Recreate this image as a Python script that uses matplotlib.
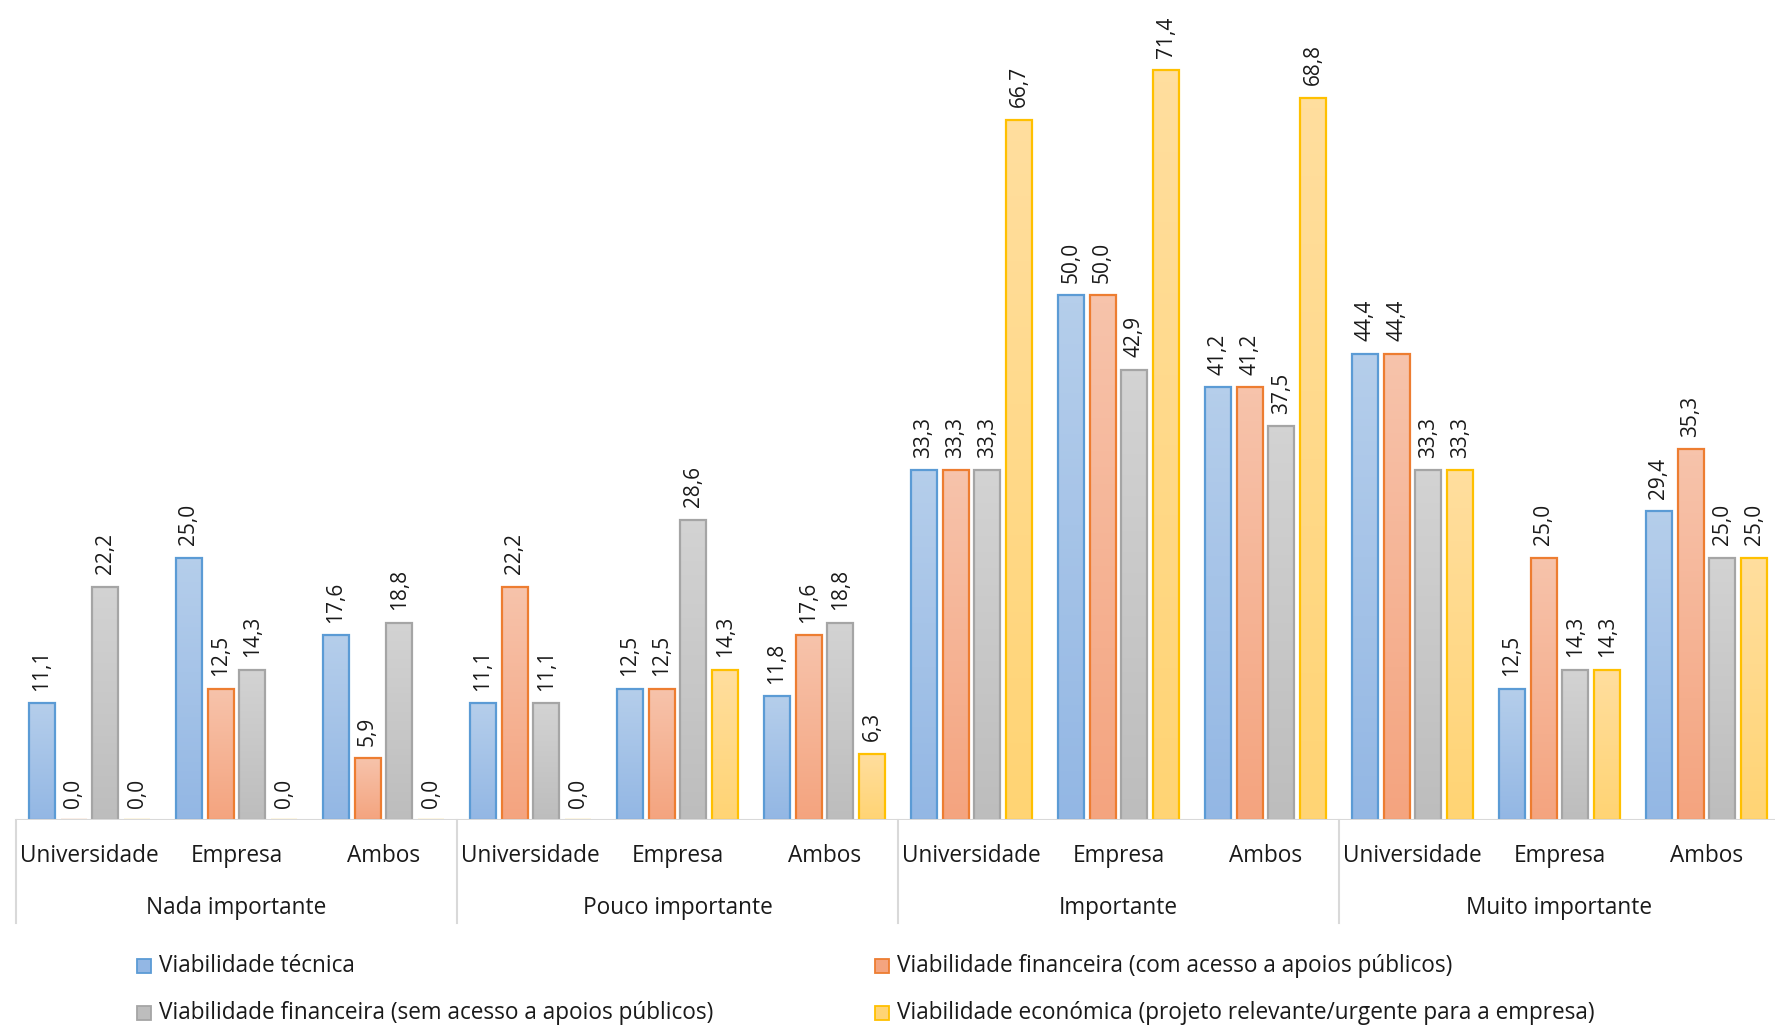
import numpy as np
import matplotlib
matplotlib.use("Agg")
import matplotlib.pyplot as plt
from matplotlib.colors import LinearSegmentedColormap
from matplotlib.patches import Rectangle

plt.rcParams['font.family'] = ['Open Sans', 'DejaVu Sans']

# data
groups = ["Nada importante", "Pouco importante", "Importante", "Muito importante"]
subgroups = ["Universidade", "Empresa", "Ambos"]
series = [
    "Viabilidade técnica",
    "Viabilidade financeira (com acesso a apoios públicos)",
    "Viabilidade financeira (sem acesso a apoios públicos)",
    "Viabilidade económica (projeto relevante/urgente para a empresa)",
]
tecnica = [11.1, 25.0, 17.6, 11.1, 12.5, 11.8, 33.3, 50.0, 41.2, 44.4, 12.5, 29.4]
fin_com = [0.0, 12.5, 5.9, 22.2, 12.5, 17.6, 33.3, 50.0, 41.2, 44.4, 25.0, 35.3]
fin_sem = [22.2, 14.3, 18.8, 11.1, 28.6, 18.8, 33.3, 42.9, 37.5, 33.3, 14.3, 25.0]
economica = [0.0, 0.0, 0.0, 0.0, 14.3, 6.3, 66.7, 71.4, 68.8, 33.3, 14.3, 25.0]
values = [tecnica, fin_com, fin_sem, economica]

# styles: (edge, top colour, bottom colour)
styles = [
    ("#5B9BD5", "#B5CEEB", "#93B7E4"),
    ("#ED7D31", "#F7C3AB", "#F4A47F"),
    ("#A5A5A5", "#D3D3D3", "#BDBDBD"),
    ("#FFC000", "#FFDE9E", "#FFD474"),
]

fig = plt.figure(figsize=(17.75, 10.29), dpi=100)
ax_h_px = 820
ax = fig.add_axes([16 / 1775, (1029 - 820) / 1029, (1780 - 16) / 1775, 820 / 1029])
ax.axis("off")

pitch = 0.216
width = 0.177
n_sub = len(groups) * len(subgroups)
x = np.arange(n_sub) + 0.5
txt_color = "#1a1a1a"
fs_val = 15
fs_txt = 16.3

for i, (vals, (edge, ctop, cbot)) in enumerate(zip(values, styles)):
    xi = x + (i - 1.5) * pitch
    bars = ax.bar(xi, vals, width=width, facecolor="none", edgecolor=edge,
                  linewidth=1.6, zorder=3)
    cmap = LinearSegmentedColormap.from_list(f"g{i}", [cbot, ctop])
    grad = np.linspace(0, 1, 64).reshape(-1, 1)
    for b, v in zip(bars, vals):
        if v > 0:
            im = ax.imshow(grad, cmap=cmap, origin="lower", aspect="auto",
                           extent=[b.get_x(), b.get_x() + b.get_width(), 0, v],
                           zorder=2)
            im.set_clip_path(b)
        ax.annotate(f"{v:.1f}".replace(".", ","), (b.get_x() + b.get_width() / 2, v),
                    xytext=(0, 9), textcoords="offset points", rotation=90,
                    ha="center", va="bottom", fontsize=fs_val, color=txt_color)

ax.set_xlim(0, 12)
ax.set_ylim(0, 78.1)

# axis line and category labels
trans = ax.get_xaxis_transform()
ax.plot([0, 12], [0, 0], color="#D9D9D9", lw=1.5, zorder=4)
for k in range(n_sub):
    ax.text(x[k], -36 / ax_h_px, subgroups[k % 3], transform=trans,
            ha="center", va="center", fontsize=fs_txt, color=txt_color)
for g, name in enumerate(groups):
    ax.text(g * 3 + 1.5, -88 / ax_h_px, name, transform=trans,
            ha="center", va="center", fontsize=fs_txt, color=txt_color)
for g in range(len(groups) + 1):
    ax.plot([g * 3, g * 3], [0, -103 / ax_h_px], transform=trans,
            color="#D9D9D9", lw=1.5, clip_on=False)

# legend
leg_x = [137 / 1775, 875 / 1775]
leg_y = [1 - 966 / 1029, 1 - 1013 / 1029]
sq = 14
for i, name in enumerate(series):
    edge, ctop, cbot = styles[i]
    lx, ly = leg_x[i % 2], leg_y[i // 2]
    fig.add_artist(Rectangle((lx, ly - sq / 2 / 1029), sq / 1775, sq / 1029,
                             transform=fig.transFigure, facecolor=cbot,
                             edgecolor=edge, lw=1.3))
    fig.text(lx + 22 / 1775, ly, name, ha="left", va="center",
             fontsize=fs_txt, color=txt_color)

fig.savefig("out.png", dpi=100)
